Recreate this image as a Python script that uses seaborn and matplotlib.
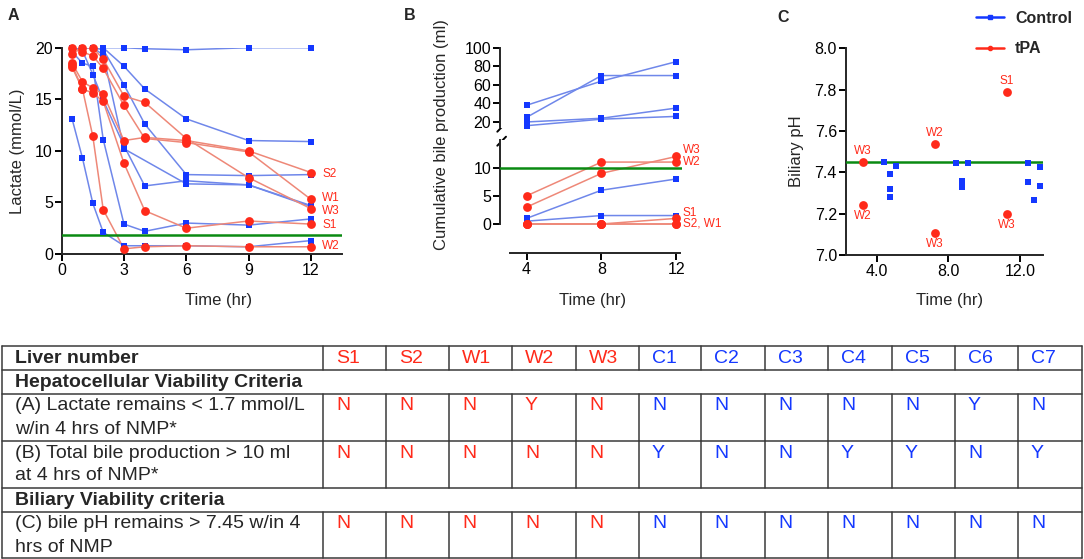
import numpy as np
import pandas as pd
import matplotlib
matplotlib.use("Agg")
import matplotlib.pyplot as plt
import seaborn as sns
from matplotlib.lines import Line2D

sns.set_style("ticks")
plt.rcParams["font.family"] = ["Liberation Sans", "DejaVu Sans"]

W, H = 1084, 559  # figure size in pixels

# Panel A: lactate (mmol/L)
lactate_times = [0.5, 1, 1.5, 2, 3, 4, 6, 9, 12]
lactate_control = {
    "C1": [20, 20, 20, 20, 20, 19.9, 19.8, 20, 20],
    "C2": [20, 20, 20, 20, 18.2, 16.0, 13.1, 11.0, 10.9],
    "C3": [20, 20, 20, 19.8, 16.4, 12.6, 7.7, 7.6, 7.7],
    "C4": [20, 19.7, 17.4, 14.9, 10.5, 6.6, 7.1, 6.7, 4.7],
    "C5": [20, 20, 20, 19.3, 10.2, np.nan, 6.8, 6.7, 4.6],
    "C6": [13.1, 9.3, 4.9, 2.1, 0.8, 0.8, 0.8, 0.7, 1.3],
    "C7": [19.6, 18.5, 18.2, 11.1, 2.9, 2.2, 3.0, 2.8, 3.4],
}
lactate_tpa = {
    "S1": [18.1, 16.0, 15.6, 14.8, 8.8, 4.2, 2.5, 3.2, 2.9],
    "S2": [18.5, 16.7, 16.1, 15.5, 11.0, 11.3, 11.0, 10.0, 7.9],
    "W1": [20.0, 19.6, 19.2, 18.0, 14.4, 11.2, 10.8, 9.9, 5.3],
    "W2": [18.3, 16.0, 11.4, 4.3, 0.5, 0.7, 0.8, 0.7, 0.7],
    "W3": [19.4, 20.0, 20.0, 18.9, 15.3, 14.7, 11.2, 7.4, 4.4],
}
lactate_tag_names = ["S2", "W1", "W3", "S1", "W2"]
lactate_tag_y = [7.8, 5.4, 4.2, 2.8, 0.75]
lactate_cutoff = 1.8

# Panel B: cumulative bile production (ml)
bile_times = [4, 8, 12]
bile_control = {
    "C1": [38, 64, 85],
    "C2": [25, 70, 70],
    "C3": [20, 24, 35],
    "C4": [16, 23, 26],
    "C5": [1.0, 6.0, 8.0],
    "C6": [0.5, 1.5, 1.5],
}
bile_tpa = {
    "S1": [0, 0, 1.0],
    "S2": [0, 0, 0],
    "W1": [0, 0, 0],
    "W2": [5, 11, 11],
    "W3": [3, 9, 12],
}
bile_tag_names = ["W3", "W2", "S1", "S2, W1"]
bile_tag_y = [13.2, 11.0, 2.0, 0.0]
bile_cutoff = 10
bile_break = 14  # values above go on the upper segment

# Panel C: biliary pH
ph_control_time = [4.42, 4.75, 4.75, 4.75, 5.08, 8.43, 8.77, 8.77, 9.09,
                   12.45, 12.45, 12.77, 13.09, 13.09]
ph_control = [7.45, 7.39, 7.32, 7.28, 7.43, 7.445, 7.36, 7.33, 7.445,
              7.445, 7.355, 7.268, 7.427, 7.334]
ph_tpa_time = [3.25, 3.25, 7.25, 7.25, 11.25, 11.25]
ph_tpa = [7.45, 7.24, 7.535, 7.105, 7.79, 7.20]
ph_tpa_tags = ["W3", "W2", "W2", "W3", "S1", "W3"]
ph_tag_above = [True, False, True, False, True, False]
ph_cutoff = 7.45

# Table
livers = ["S1", "S2", "W1", "W2", "W3", "C1", "C2", "C3", "C4", "C5", "C6", "C7"]
crit_lactate = ["N", "N", "N", "Y", "N", "N", "N", "N", "N", "N", "Y", "N"]
crit_bile = ["N", "N", "N", "N", "N", "Y", "N", "N", "Y", "Y", "N", "Y"]
crit_ph = ["N"] * 12

BLUE_M = "#1438ff"
BLUE_L = "#6f87ea"
RED_M = "#ff2a1a"
RED_L = "#ee8878"
GREEN = "#0a8a12"
TXT = 12


def to_long(times, control, tpa):
    rows = []
    for group, series in (("Control", control), ("tPA", tpa)):
        for name, vals in series.items():
            for t, v in zip(times, vals):
                if not np.isnan(v):
                    rows.append((name, group, t, v))
    return pd.DataFrame(rows, columns=["liver", "group", "time", "value"])


def draw_series(ax, df, clip):
    sns.lineplot(data=df, x="time", y="value", hue="group", units="liver",
                 estimator=None, sort=False, palette={"Control": BLUE_L, "tPA": RED_L},
                 lw=1.1, legend=False, ax=ax, zorder=2)
    sns.scatterplot(data=df[df.group == "Control"], x="time", y="value", color=BLUE_M,
                    marker="s", s=14, linewidth=0, legend=False, ax=ax,
                    clip_on=clip, zorder=4)
    sns.scatterplot(data=df[df.group == "tPA"], x="time", y="value", color=RED_M,
                    marker="o", s=40, linewidth=0, legend=False, ax=ax,
                    clip_on=clip, zorder=5)
    ax.set_xlabel("")
    ax.set_ylabel("")


def style_axes(ax):
    for s in ["top", "right"]:
        ax.spines[s].set_visible(False)
    for s in ["left", "bottom"]:
        ax.spines[s].set_linewidth(1.4)
    ax.tick_params(direction="out", length=4.8, width=1.4, labelsize=11.5,
                   color="black", labelcolor="black")
    ax.tick_params(axis="y", pad=1.5)
    ax.tick_params(axis="x", pad=2)


def fig_axes(left, right, top, bottom):
    return fig.add_axes([left / W, 1 - bottom / H, (right - left) / W, (bottom - top) / H])


fig = plt.figure(figsize=(W / 100, H / 100), dpi=100)
canvas = fig.add_axes([0, 0, 1, 1])
canvas.set_xlim(0, W)
canvas.set_ylim(H, 0)
canvas.axis("off")

# ---- A ----
axA = fig_axes(61.7, 342, 47.7, 254)
draw_series(axA, to_long(lactate_times, lactate_control, lactate_tpa), clip=False)
axA.axhline(lactate_cutoff, color=GREEN, lw=1.8, zorder=3)
axA.set_xlim(0, 13.5)
axA.set_ylim(0, 20)
axA.set_xticks([0, 3, 6, 9, 12])
axA.set_yticks([0, 5, 10, 15, 20])
style_axes(axA)
for name, y in zip(lactate_tag_names, lactate_tag_y):
    axA.text(12.55, y, name, color=RED_M, fontsize=8.5, va="center", ha="left")

# ---- B (broken y axis) ----
axB1 = fig_axes(500, 682, 47.7, 128)
axB2 = fig_axes(500, 682, 140, 252.7)
bile_df = to_long(bile_times, bile_control, bile_tpa)
upper_ids = bile_df.groupby("liver")["value"].transform("min") > bile_break
draw_series(axB1, bile_df[upper_ids], clip=True)
draw_series(axB2, bile_df[~upper_ids], clip=True)
for ax in (axB1, axB2):
    ax.set_xlim(2.58, 12.3)
    style_axes(ax)
axB1.set_ylim(13.5, 100)
axB1.set_yticks([20, 40, 60, 80, 100])
axB1.spines["left"].set_bounds(14.9, 100)
axB1.spines["bottom"].set_visible(False)
axB1.tick_params(axis="x", bottom=False, labelbottom=False)
axB2.set_ylim(-5.1, 14.92)
axB2.set_yticks([0, 5, 10])
axB2.spines["left"].set_bounds(0, 14.92)
axB2.spines["bottom"].set_bounds(3.1, 12.2)
axB2.set_xticks([4, 8, 12])
axB2.axhline(bile_cutoff, color=GREEN, lw=1.8, zorder=3)
for name, y in zip(bile_tag_names, bile_tag_y):
    axB2.text(12.35, y, name, color=RED_M, fontsize=8.5, va="center", ha="left")
canvas.plot([497.3, 506], [131.7, 122.7], color="black", lw=1.4)
canvas.plot([497.3, 506], [145.7, 136.7], color="black", lw=1.4)

# ---- C ----
axC = fig_axes(845.7, 1043, 48.3, 255)
ph_ctrl_df = pd.DataFrame({"time": ph_control_time, "pH": ph_control})
ph_tpa_df = pd.DataFrame({"time": ph_tpa_time, "pH": ph_tpa})
sns.scatterplot(data=ph_ctrl_df, x="time", y="pH", color=BLUE_M, marker="s", s=14,
                linewidth=0, ax=axC, zorder=4, clip_on=False)
sns.scatterplot(data=ph_tpa_df, x="time", y="pH", color=RED_M, marker="o", s=40,
                linewidth=0, ax=axC, zorder=5, clip_on=False)
axC.axhline(ph_cutoff, color=GREEN, lw=1.8, zorder=3)
axC.set_xlim(2.27, 13.28)
axC.set_ylim(7.0, 8.0)
axC.set_xticks([4, 8, 12])
axC.set_xticklabels(["4.0", "8.0", "12.0"])
axC.set_yticks([7.0, 7.2, 7.4, 7.6, 7.8, 8.0])
axC.set_yticklabels(["7.0", "7.2", "7.4", "7.6", "7.8", "8.0"])
axC.set_xlabel("")
axC.set_ylabel("")
style_axes(axC)
for t, v, tag, above in zip(ph_tpa_time, ph_tpa, ph_tpa_tags, ph_tag_above):
    axC.annotate(tag, (t, v), xytext=(0, 11 if above else -11), textcoords="offset pixels",
                 ha="center", va="center", color=RED_M, fontsize=8.5)

handles = [
    Line2D([], [], color=BLUE_M, lw=1.8, marker="s", ms=3),
    Line2D([], [], color=RED_M, lw=1.8, marker="o", ms=3),
]
fig.legend(handles, ["Control", "tPA"], loc="upper left",
           bbox_to_anchor=(968 / W, 1 - 3 / H), frameon=False, borderpad=0,
           handlelength=1.75, handletextpad=0.7, labelspacing=0.95,
           prop={"size": 11.5, "weight": "bold"})

# axis labels and panel letters
canvas.text(17.5, 151, "Lactate (mmol/L)", rotation=90, ha="center", va="center", fontsize=TXT)
canvas.text(441.7, 135, "Cumulative bile production (ml)", rotation=90, ha="center",
            va="center", fontsize=TXT)
canvas.text(797, 151, "Biliary pH", rotation=90, ha="center", va="center", fontsize=TXT)
for x in (219, 593, 950):
    canvas.text(x, 300, "Time (hr)", ha="center", va="center", fontsize=TXT)
for x, y, letter in ((13, 15, "A"), (410, 15, "B"), (783, 17, "C")):
    canvas.text(x, y, letter, ha="center", va="center", fontsize=11.5, weight="bold")

# ---- table ----
x0, x1 = 2, 1082
col_edges = [323, 386, 449, 512, 576, 639, 701, 765, 828, 892, 955, 1018]
row_edges = [346, 370, 394, 441, 488, 512, 558]
line_kw = dict(color="#3a3a3a", lw=1.1)
for y in row_edges:
    canvas.plot([x0, x1], [y, y], **line_kw)
canvas.plot([x0, x0], [row_edges[0], row_edges[-1]], **line_kw)
canvas.plot([x1, x1], [row_edges[0], row_edges[-1]], **line_kw)
for ya, yb in ((346, 370), (394, 441), (441, 488), (512, 558)):
    for x in col_edges:
        canvas.plot([x, x], [ya, yb], **line_kw)

TS = 14
canvas.text(15, 358.5, "Liver number", fontsize=TS, weight="bold", va="center")
canvas.text(15, 382.5, "Hepatocellular Viability Criteria", fontsize=TS, weight="bold", va="center")
canvas.text(15, 500.5, "Biliary Viability criteria", fontsize=TS, weight="bold", va="center")
row_text = [
    (406, "(A) Lactate remains < 1.7 mmol/L", "w/in 4 hrs of NMP*", crit_lactate),
    (453, "(B) Total bile production > 10 ml", "at 4 hrs of NMP*", crit_bile),
    (524, "(C) bile pH remains > 7.45 w/in 4", "hrs of NMP", crit_ph),
]
for y, l1, l2, vals in row_text:
    canvas.text(15, y, l1, fontsize=TS, va="center")
    canvas.text(15, y + 23, l2, fontsize=TS, va="center")
    for x, v, name in zip(col_edges, vals, livers):
        c = RED_M if name[0] in "SW" else BLUE_M
        canvas.text(x + 13, y, v, fontsize=TS, va="center", color=c)
for x, name in zip(col_edges, livers):
    c = RED_M if name[0] in "SW" else BLUE_M
    canvas.text(x + 13, 358.5, name, fontsize=TS, va="center", color=c)

fig.savefig("out.png", dpi=100)
